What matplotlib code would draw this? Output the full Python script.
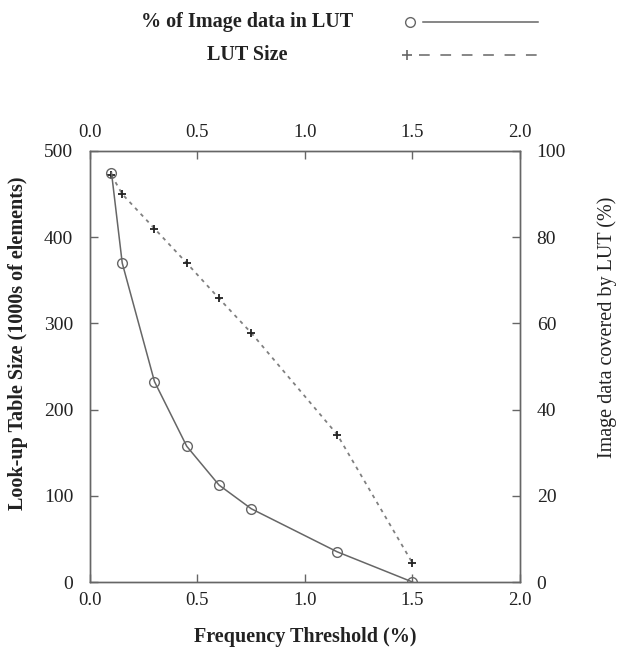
import matplotlib
matplotlib.use("Agg")
import matplotlib.pyplot as plt
from matplotlib.lines import Line2D

plt.rcParams['font.family'] = ['Liberation Serif', 'DejaVu Serif']

# frequency threshold (%)
threshold = [0.1, 0.15, 0.3, 0.45, 0.6, 0.75, 1.15, 1.5]
# % of image data in LUT (right axis)
pct_image = [95, 74, 46.5, 31.5, 22.5, 17, 7, 0]
# LUT size, 1000s of elements (left axis)
lut_size = [472, 450, 410, 370, 329, 289, 171, 22]

ink = '#222222'
gray = '#666666'

fig = plt.figure(figsize=(6.18, 6.5), dpi=100)
ax = fig.add_axes([0.1456, 0.1046, 0.6958, 0.6631])
ax2 = ax.twinx()

ax.plot(threshold, lut_size, color='#808080', ls=(0, (2, 2.5)), lw=1.3,
        marker='+', ms=6, mew=1.3, mec=ink, zorder=3)
ax2.plot(threshold, pct_image, color=gray, ls='-', lw=1.1,
         marker='o', ms=7, mfc='none', mec=gray, mew=1.0, zorder=3)

ax.set_xlim(0, 2.0)
ax.set_ylim(0, 500)
ax2.set_ylim(0, 100)
ax.set_xticks([0.0, 0.5, 1.0, 1.5, 2.0])
ax.set_yticks([0, 100, 200, 300, 400, 500])
ax2.set_yticks([0, 20, 40, 60, 80, 100])

for a in (ax, ax2):
    for s in a.spines.values():
        s.set_color(gray)
        s.set_linewidth(1.0)

ax.tick_params(axis='x', direction='in', length=6, width=1.0, color=gray,
               labelsize=13.5, labelcolor=ink, pad=7,
               top=True, labeltop=True)
ax.tick_params(axis='y', direction='in', length=6, width=1.0, color=gray,
               labelsize=14, labelcolor=ink, pad=12)
ax2.tick_params(axis='y', direction='in', length=6, width=1.0, color=gray,
                labelsize=14, labelcolor=ink, pad=12)

ax.set_xlabel('Frequency Threshold (%)', fontsize=14.5, fontweight='bold',
              color=ink, labelpad=13)
ax.set_ylabel('Look-up Table Size (1000s of elements)', fontsize=14.5,
              fontweight='bold', color=ink)
ax.yaxis.set_label_coords(-0.145, 0.555)
ax2.set_ylabel('Image data covered by LUT (%)', fontsize=14.5, color=ink)
ax2.yaxis.set_label_coords(1.18, 0.59)

# legend at the top
fig.text(0.400, 0.966, '% of Image data in LUT', ha='center', va='center',
         fontsize=14.5, fontweight='bold', color=ink)
fig.text(0.400, 0.915, 'LUT Size', ha='center', va='center',
         fontsize=14.5, fontweight='bold', color=ink)
fig.add_artist(Line2D([0.663], [0.966], marker='o', ms=7, mfc='none',
                      mec=gray, mew=1.0, ls='none'))
fig.add_artist(Line2D([0.685, 0.870], [0.966, 0.966], color=gray, lw=1.1))
fig.add_artist(Line2D([0.659], [0.915], marker='+', ms=7, mew=1.2,
                      color=gray, ls='none'))
fig.add_artist(Line2D([0.678, 0.870], [0.915, 0.915], color=gray, lw=1.1,
                      ls=(0, (7, 7))))

fig.savefig('out.png', dpi=100)
